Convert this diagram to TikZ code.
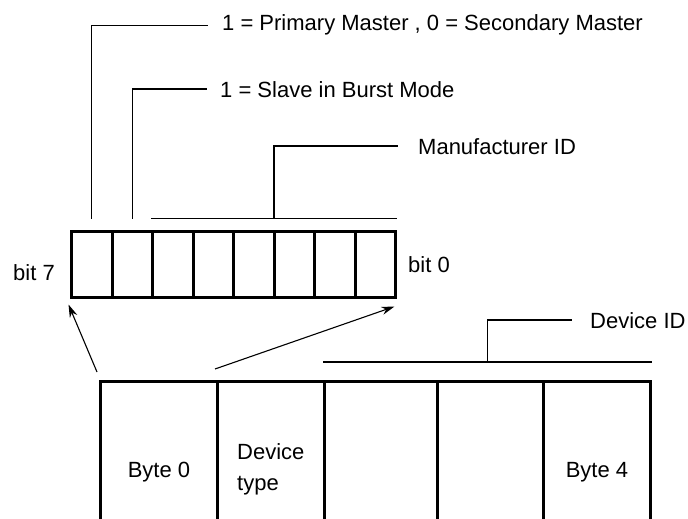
\documentclass[tikz,border=0pt]{standalone}
\usepackage{fontspec}
\setmainfont{Liberation Sans}
\usetikzlibrary{arrows.meta,calc}
\begin{document}
\begin{tikzpicture}[x=1pt,y=-1pt,
  lbl/.style={inner sep=0pt,font=\fontsize{22}{31}\selectfont},
  bitcell/.style={draw,line width=3pt,minimum width=40.5pt,minimum height=66pt,inner sep=0pt},
  bytecell/.style={draw,line width=3pt,minimum height=170pt,inner sep=0pt,anchor=north west},
  brk/.style={line width=1.3pt},
  ptr/.style={line width=1.1pt,-{Stealth[length=13pt,width=8pt]}}]
  \useasboundingbox (0,0) rectangle (688,519);
  \clip (0,0) rectangle (688,519);
  \foreach \i in {0,...,7}
    \node[bitcell] (b\i) at ({375.25-40.5*\i},264) {};
  \node[lbl,anchor=base east] (bit7) at (55,280) {bit 7};
  \node[lbl,anchor=base west] (bit0) at (408,272) {bit 0};
  \node[bytecell,minimum width=117pt] (byte0) at (99,380) {};
  \node[bytecell,minimum width=107pt] (byte1) at (216,380) {};
  \node[bytecell,minimum width=113pt] (byte2) at (323,380) {};
  \node[bytecell,minimum width=106pt] (byte3) at (436,380) {};
  \node[bytecell,minimum width=107pt] (byte4) at (542,380) {};
  \node[lbl,anchor=base] at ([yshift=-97pt]byte0.north) {Byte 0};
  \node[lbl,anchor=north west,align=left] (devtype) at (237,443) {Device\\type};
  \node[lbl,anchor=base] at ([yshift=-97pt]byte4.north) {Byte 4};
  \node[lbl,anchor=base west] (pm) at (222,31) {1 = Primary Master , 0 = Secondary Master};
  \node[lbl,anchor=base west] (sb) at (220,97) {1 = Slave in Burst Mode};
  \node[lbl,anchor=base west] (mf) at (418,154) {Manufacturer ID};
  \node[lbl,anchor=base west] (dev) at (590,328) {Device ID};
  \draw[brk] ([yshift=11pt]b7.north) |- ([xshift=-14pt]pm.west);
  \draw[brk] ([yshift=11pt]b6.north) |- ([xshift=-13pt]sb.west);
  \draw[brk] ([yshift=11pt]b5.north west) -- ([yshift=11pt]b0.north east);
  \coordinate (mfmid) at ($([yshift=11pt]b5.north west)!0.5!([yshift=11pt]b0.north east)$);
  \draw[brk] (mfmid) |- ([xshift=-20pt]mf.west);
  \draw[brk] ([yshift=18pt]byte2.north west) -- ([yshift=18pt]byte4.north east);
  \coordinate (devmid) at ($([yshift=18pt]byte2.north west)!0.5!([yshift=18pt]byte4.north east)$);
  \draw[brk] (devmid) |- ([xshift=-18pt]dev.west);
  \draw[ptr] ([shift={(-2pt,8pt)}]byte0.north west) -- ([shift={(-1.5pt,-6pt)}]b7.south west);
  \draw[ptr] ([shift={(-4pt,11pt)}]byte0.north east) -- ([shift={(-2.5pt,-8pt)}]b0.south east);
\end{tikzpicture}
\end{document}
